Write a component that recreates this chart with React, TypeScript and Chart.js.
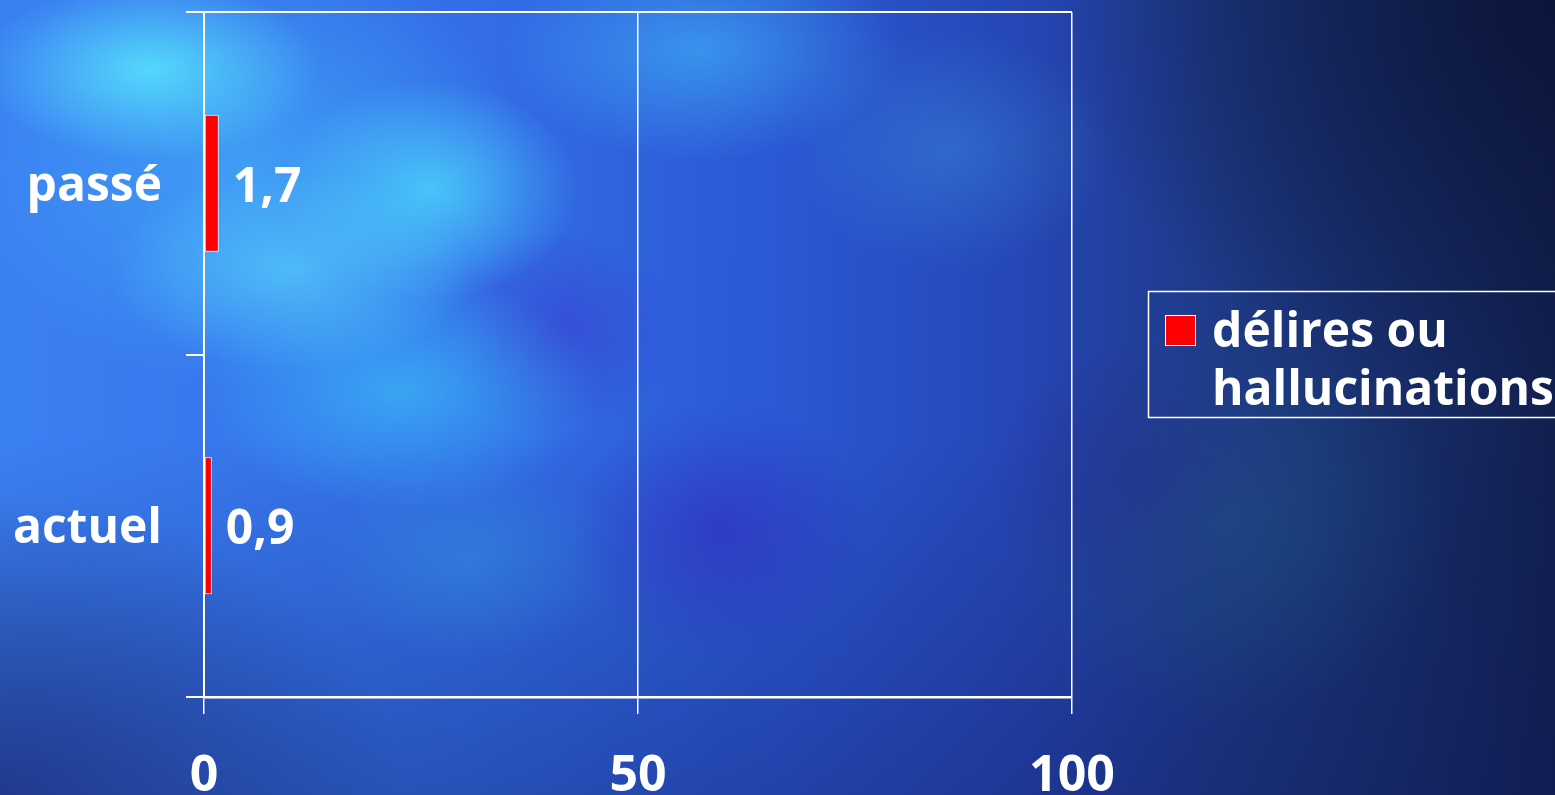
import { useEffect, useRef } from "react";
import { Chart, registerables } from "chart.js";

Chart.register(...registerables);

// Chart data
const categories = ["passé", "actuel"];
const seriesLabel = "délires ou hallucinations";
const seriesValues = [1.7, 0.9];
const xTickValues = [0, 50, 100];

const FONT = "'Open Sans', 'Noto Sans', 'DejaVu Sans', sans-serif";
const WHITE = "#ffffff";
const BAR_RED = "#ff0000";

const formatValue = (v: number) => v.toString().replace(".", ",");

// Writes the value next to the end of each bar
const valueLabelPlugin = {
  id: "valueLabels",
  afterDatasetsDraw(chart: any) {
    const { ctx } = chart;
    const meta = chart.getDatasetMeta(0);
    const values = chart.data.datasets[0].data as number[];
    ctx.save();
    ctx.fillStyle = WHITE;
    ctx.font = `bold 48px ${FONT}`;
    ctx.textAlign = "left";
    ctx.textBaseline = "middle";
    meta.data.forEach((bar: any, i: number) => {
      const { x, y } = bar.getProps(["x", "y"], true);
      ctx.fillText(formatValue(values[i]), x + 14, y + 5);
    });
    ctx.restore();
  },
};

// Boxed legend on the right, with the label wrapped over two lines
const boxedLegendPlugin = {
  id: "boxedLegend",
  afterDraw(chart: any) {
    const { ctx } = chart;
    const ds = chart.data.datasets[0];
    const boxLeft = 1148.5;
    const boxTop = 291.5;
    const boxWidth = 430;
    const boxHeight = 126;
    ctx.save();
    ctx.strokeStyle = WHITE;
    ctx.lineWidth = 1.5;
    ctx.strokeRect(boxLeft, boxTop, boxWidth, boxHeight);

    ctx.fillStyle = ds.backgroundColor;
    ctx.fillRect(1165, 315, 31, 31);
    ctx.strokeStyle = WHITE;
    ctx.lineWidth = 1;
    ctx.strokeRect(1165.5, 315.5, 30, 30);

    ctx.font = `bold 48px ${FONT}`;
    ctx.fillStyle = WHITE;
    ctx.textAlign = "left";
    ctx.textBaseline = "alphabetic";
    const words = String(ds.label).split(" ");
    const maxWidth = 345;
    const lines: string[] = [];
    let current = "";
    words.forEach((w) => {
      const trial = current ? current + " " + w : w;
      if (ctx.measureText(trial).width > maxWidth && current) {
        lines.push(current);
        current = w;
      } else {
        current = trial;
      }
    });
    if (current) lines.push(current);
    lines.forEach((line, i) => {
      ctx.fillText(line, 1212, 347 + i * 58);
    });
    ctx.restore();
  },
};

const BACKGROUND = [
  "radial-gradient(ellipse 170px 90px at 150px 70px, rgba(90,235,255,0.8), rgba(90,235,255,0) 100%)",
  "radial-gradient(ellipse 150px 110px at 430px 190px, rgba(80,225,255,0.7), rgba(80,225,255,0) 100%)",
  "radial-gradient(ellipse 180px 100px at 290px 270px, rgba(90,220,255,0.6), rgba(90,220,255,0) 100%)",
  "radial-gradient(ellipse 200px 120px at 400px 390px, rgba(60,200,250,0.6), rgba(60,200,250,0) 100%)",
  "radial-gradient(ellipse 280px 220px at 250px 170px, rgba(70,185,250,0.6), rgba(70,185,250,0) 100%)",
  "radial-gradient(ellipse 200px 110px at 700px 50px, rgba(70,200,255,0.5), rgba(70,200,255,0) 100%)",
  "radial-gradient(ellipse 160px 120px at 950px 150px, rgba(70,170,230,0.3), rgba(70,170,230,0) 100%)",
  "radial-gradient(ellipse 150px 130px at 720px 530px, rgba(50,40,190,0.55), rgba(50,40,190,0) 100%)",
  "radial-gradient(ellipse 120px 100px at 560px 330px, rgba(60,50,200,0.45), rgba(60,50,200,0) 100%)",
  "radial-gradient(ellipse 150px 100px at 470px 560px, rgba(50,160,220,0.35), rgba(50,160,220,0) 100%)",
  "radial-gradient(ellipse 220px 200px at 1230px 520px, rgba(30,90,130,0.45), rgba(30,90,130,0) 100%)",
  "radial-gradient(ellipse 160px 140px at 1150px 480px, rgba(40,30,140,0.5), rgba(40,30,140,0) 100%)",
  "radial-gradient(ellipse 500px 400px at 1555px 0px, rgba(10,20,55,0.85), rgba(10,20,55,0) 100%)",
  "radial-gradient(ellipse 400px 300px at 0px 795px, rgba(25,35,110,0.6), rgba(25,35,110,0) 100%)",
  "linear-gradient(180deg, rgba(0,0,0,0) 55%, rgba(15,25,90,0.35) 100%)",
  "linear-gradient(90deg, #3b80f2 0%, #336ee8 30%, #2b58d4 50%, #2546b4 66%, #1e3a88 78%, #172c68 90%, #111f4e 100%)",
].join(", ");

export default function App() {
  const canvasRef = useRef<HTMLCanvasElement | null>(null);

  useEffect(() => {
    const prevMargin = document.body.style.margin;
    document.body.style.margin = "0";
    const canvas = canvasRef.current;
    if (!canvas) return;

    const chart = new Chart(canvas, {
      type: "bar",
      data: {
        labels: categories,
        datasets: [
          {
            label: seriesLabel,
            data: seriesValues,
            backgroundColor: BAR_RED,
            borderColor: WHITE,
            borderWidth: 1,
            borderSkipped: false,
            barPercentage: 0.4,
            categoryPercentage: 1,
          },
        ],
      },
      plugins: [valueLabelPlugin, boxedLegendPlugin],
      options: {
        indexAxis: "y",
        responsive: false,
        animation: false,
        maintainAspectRatio: false,
        layout: { padding: { left: 0, top: 12, right: 483, bottom: 0 } },
        plugins: {
          legend: { display: false },
          tooltip: { enabled: false },
          title: { display: false },
        },
        scales: {
          x: {
            type: "linear",
            min: 0,
            max: 100,
            afterBuildTicks: (scale: any) => {
              scale.ticks = xTickValues.map((v) => ({ value: v }));
            },
            afterFit: (scale: any) => {
              scale.height = 98;
              scale.paddingLeft = 0;
              scale.paddingRight = 0;
            },
            ticks: {
              color: WHITE,
              font: { family: FONT, size: 50, weight: "bold" },
              padding: 33,
              maxRotation: 0,
              autoSkip: false,
            },
            grid: {
              color: WHITE,
              lineWidth: 1.5,
              tickLength: 17,
              tickColor: WHITE,
              drawOnChartArea: true,
            },
            border: { color: WHITE, width: 2.5 },
          },
          y: {
            type: "category",
            afterFit: (scale: any) => {
              scale.width = 204;
              scale.paddingTop = 0;
              scale.paddingBottom = 0;
            },
            ticks: {
              color: WHITE,
              font: { family: FONT, size: 48, weight: "bold" },
              padding: 24,
              labelOffset: 4,
            },
            grid: {
              offset: true,
              color: (ctx: any) => (ctx.index === 0 ? WHITE : "rgba(0,0,0,0)"),
              lineWidth: 2,
              tickLength: 18,
              tickColor: WHITE,
              drawOnChartArea: true,
            },
            border: { color: WHITE, width: 2 },
          },
        },
      } as any,
    });

    let cancelled = false;
    if ((document as any).fonts && (document as any).fonts.load) {
      Promise.all([
        (document as any).fonts.load(`bold 48px 'Open Sans'`),
        (document as any).fonts.load(`bold 50px 'Open Sans'`),
      ])
        .then(() => {
          if (!cancelled) chart.update();
        })
        .catch(() => {});
    }

    return () => {
      cancelled = true;
      chart.destroy();
      document.body.style.margin = prevMargin;
    };
  }, []);

  return (
    <div
      style={{
        position: "fixed",
        left: 0,
        top: 0,
        width: 1555,
        height: 795,
        overflow: "hidden",
        background: BACKGROUND,
      }}
    >
      <canvas
        ref={canvasRef}
        width={1555}
        height={795}
        style={{ display: "block", width: 1555, height: 795 }}
      />
    </div>
  );
}
